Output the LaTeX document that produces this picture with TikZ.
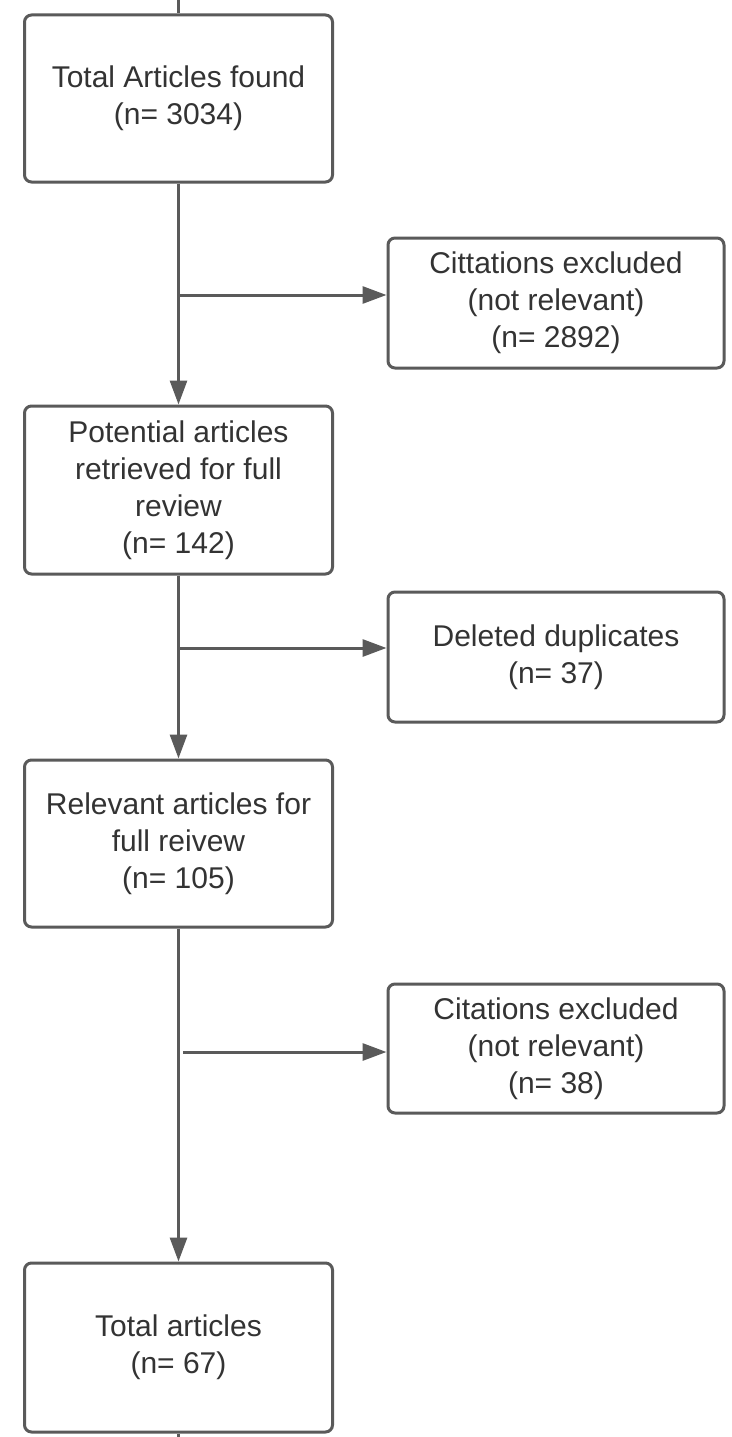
\documentclass[tikz,border=0pt]{standalone}
\usepackage{fontspec}
\setmainfont{Liberation Sans}
\usetikzlibrary{arrows.meta}
\definecolor{linegray}{HTML}{5A5A5A}
\definecolor{textgray}{HTML}{333333}
\tikzset{
  flowbox/.style={draw=linegray, line width=3pt, rounded corners=7pt, fill=white,
    align=center, text=textgray, font=\fontsize{30}{37}\selectfont,
    inner sep=0pt, anchor=center},
  mainbox/.style={flowbox, minimum width=308pt, minimum height=167pt},
  sidebox/.style={flowbox, minimum width=336pt, minimum height=130pt},
  conn/.style={draw=linegray, line width=3pt},
  arr/.style={conn, -{Triangle[length=24pt,width=17pt]}},
}
\begin{document}
\begin{tikzpicture}[x=1pt,y=-1pt]
\useasboundingbox[fill=white] (0,0) rectangle (731,1437);
\node[mainbox] (b1) at (178.5,98.5) {Total Articles found\\(n= 3034)};
\node[sidebox] (b2) at (556,303) {Cittations excluded\\(not relevant)\\(n= 2892)};
\node[mainbox, minimum height=168pt] (b3) at (178.5,490) {Potential articles\\retrieved for full\\review\\(n= 142)};
\node[sidebox] (b4) at (556,657) {Deleted duplicates\\(n= 37)};
\node[mainbox] (b5) at (178.5,843.5) {Relevant articles for\\full reivew\\(n= 105)};
\node[sidebox, minimum height=129pt] (b6) at (556,1048.5) {Citations excluded\\(not relevant)\\(n= 38)};
\node[mainbox, minimum height=169pt] (b7) at (178.5,1347.5) {Total articles\\(n= 67)};
\coordinate (top) at (178.5,0);
\coordinate (bot) at (178.5,1437);
\coordinate (j1) at (178.5,295);
\coordinate (j2) at (178.5,648);
\coordinate (j3) at (183,1052);
\draw[conn] (top) -- (b1.north);
\draw[conn] (b7.south) -- (bot);
\draw[arr] (b1.south) -- (b3.north);
\draw[arr] (b3.south) -- (b5.north);
\draw[arr] (b5.south) -- (b7.north);
\draw[arr] (j1) -- (j1 -| b2.west);
\draw[arr] (j2) -- (j2 -| b4.west);
\draw[arr] (j3) -- (j3 -| b6.west);
\end{tikzpicture}
\end{document}
